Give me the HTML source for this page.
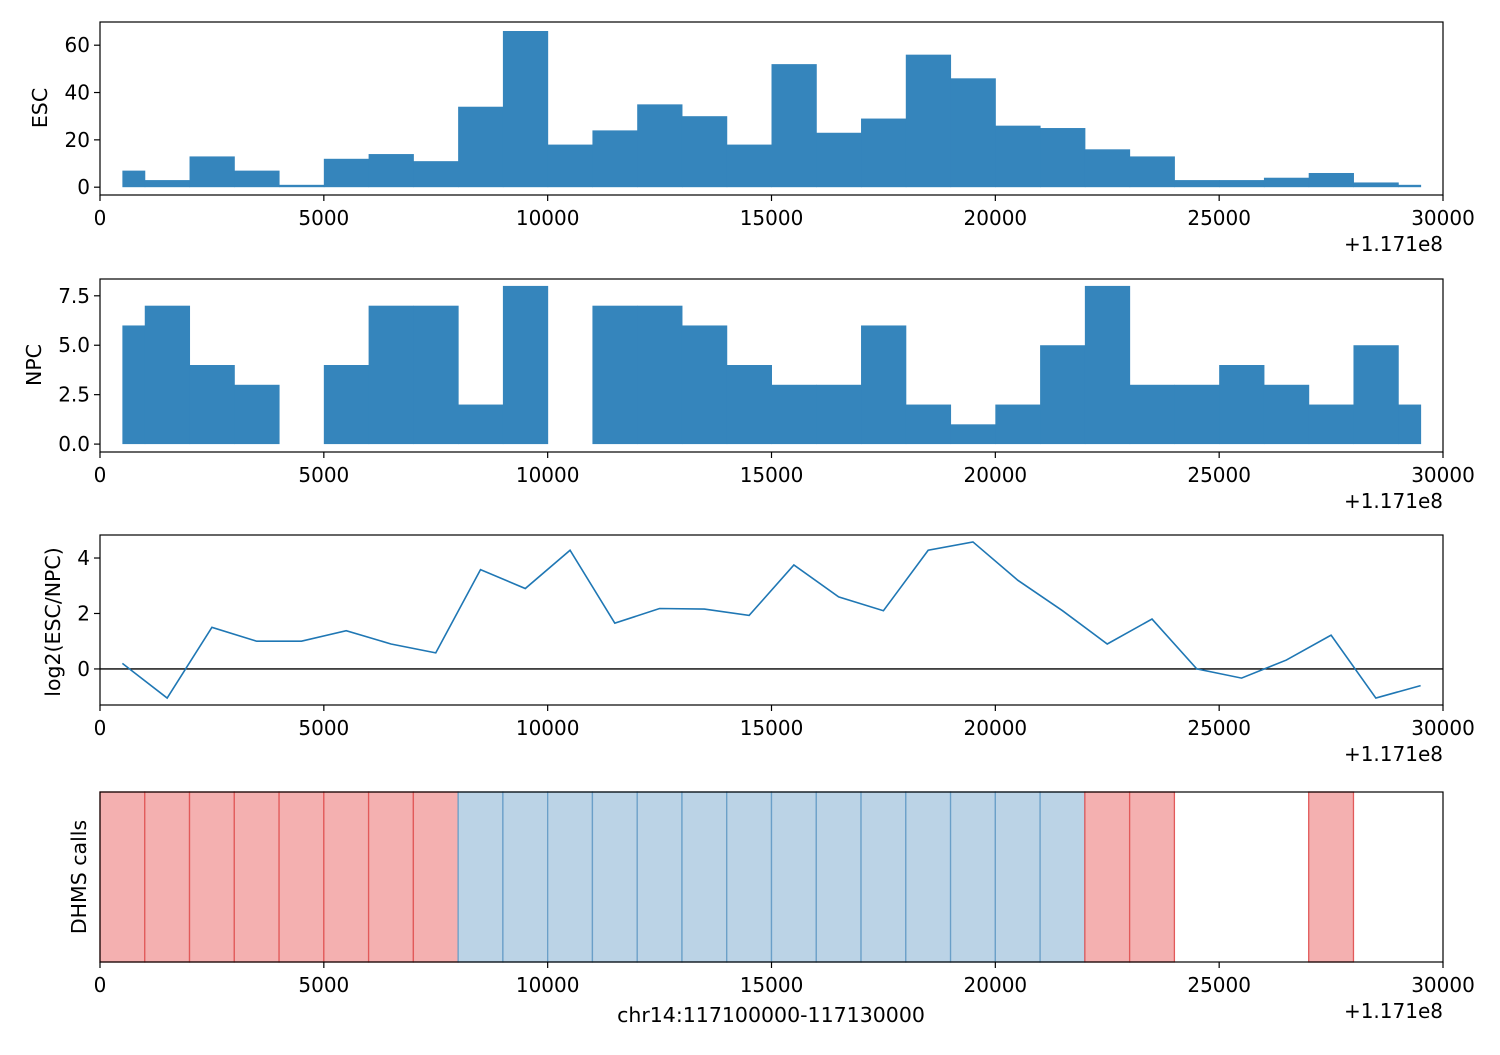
<!DOCTYPE html>
<html><head><meta charset="utf-8"><style>
body{margin:0;background:#fff}
svg text{font-family:"DejaVu Sans","Liberation Sans",sans-serif;font-size:20px;fill:#000}
svg text.lab{font-size:20.5px}
</style></head><body>
<svg id="fig" width="1500" height="1050" xmlns="http://www.w3.org/2000/svg"></svg>
<script>
const binStarts=[500,1000,2000,3000,4000,5000,6000,7000,8000,9000,10000,11000,12000,13000,14000,15000,16000,17000,18000,19000,20000,21000,22000,23000,24000,25000,26000,27000,28000,29000];
const binEnds=[1000,2000,3000,4000,5000,6000,7000,8000,9000,10000,11000,12000,13000,14000,15000,16000,17000,18000,19000,20000,21000,22000,23000,24000,25000,26000,27000,28000,29000,29500];
const escCounts=[7,3,13,7,1,12,14,11,34,66,18,24,35,30,18,52,23,29,56,46,26,25,16,13,3,3,4,6,2,1];
const npcCounts=[6,7,4,3,0,4,7,7,2,8,0,7,7,6,4,3,3,6,2,1,2,5,8,3,3,4,3,2,5,2];
const ratioX=[500,1500,2500,3500,4500,5500,6500,7500,8500,9500,10500,11500,12500,13500,14500,15500,16500,17500,18500,19500,20500,21500,22500,23500,24500,25500,26500,27500,28500,29500];
const ratioY=[0.2,-1.05,1.5,1.0,1.0,1.38,0.9,0.58,3.58,2.9,4.28,1.65,2.18,2.16,1.93,3.75,2.6,2.1,4.28,4.58,3.2,2.1,0.9,1.8,0.0,-0.33,0.32,1.22,-1.05,-0.6];
const callStarts=[0,1000,2000,3000,4000,5000,6000,7000,8000,9000,10000,11000,12000,13000,14000,15000,16000,17000,18000,19000,20000,21000,22000,23000,27000];
const callTypes=["r","r","r","r","r","r","r","r","b","b","b","b","b","b","b","b","b","b","b","b","b","b","r","r","r"];
const xTicks=[0,5000,10000,15000,20000,25000,30000];
const escTicks=[0,20,40,60];
const npcTicks=[0,2.5,5,7.5];
const npcTickLabels=["0.0","2.5","5.0","7.5"];
const ratioTicks=[0,2,4];

const svg=document.getElementById('fig');
const NS='http://www.w3.org/2000/svg';
function el(t,a,txt){const e=document.createElementNS(NS,t);for(const k in a)e.setAttribute(k,a[k]);if(txt!==undefined)e.textContent=txt;svg.appendChild(e);return e;}
const L=100,R=1443;
const sx=v=>L+(v/30000)*(R-L);
function mkY(top,bot,v0,v1){return v=>bot-(v-v0)/(v1-v0)*(bot-top);}
function frame(top,bot,name){
  const r=el('rect',{x:L,y:top,width:R-L,height:bot-top,fill:'none',stroke:'#000','stroke-width':1.2});
  
  xTicks.forEach(t=>{
    const l=el('line',{x1:sx(t),x2:sx(t),y1:bot,y2:bot+6,stroke:'#000','stroke-width':1.2});
    
    const tx=el('text',{x:sx(t),y:bot+30,'text-anchor':'middle'},String(t));
    
  });
  const o=el('text',{x:R,y:bot+56,'text-anchor':'end'},'+1.171e8');
  
}
function yticks(ticks,labels,y,name){
  ticks.forEach((t,i)=>{
    const l=el('line',{x1:L-6,x2:L,y1:y(t),y2:y(t),stroke:'#000','stroke-width':1.2});
    
    const tx=el('text',{x:L-10,y:y(t)+7,'text-anchor':'end'},labels[i]);
    
  });
}
function ylabel(txt,x,cy,name){
  const t=el('text',{x:x,y:cy,'text-anchor':'middle',class:'lab',transform:`rotate(-90 ${x} ${cy})`},txt);
  
}
function hist(counts,y,name){
  counts.forEach((c,i)=>{
    if(c<=0)return;
    const r=el('rect',{x:sx(binStarts[i]),y:y(c),width:sx(binEnds[i])-sx(binStarts[i])+0.5,height:y(0)-y(c),fill:'#3585bc'});
    
  });
}
const y1=mkY(22,195,-3.3,69.8);
hist(escCounts,y1,'esc');frame(22,195,'esc-axes');yticks(escTicks,escTicks.map(String),y1,'esc');ylabel('ESC',47,108,'esc-y-axis-title');
const y2=mkY(279,452,-0.4,8.35);
hist(npcCounts,y2,'npc');frame(279,452,'npc-axes');yticks(npcTicks,npcTickLabels,y2,'npc');ylabel('NPC',41,365,'npc-y-axis-title');
const y3=mkY(535,705,-1.3,4.83);
const z=el('line',{x1:L,x2:R,y1:y3(0),y2:y3(0),stroke:'#000','stroke-width':1.3});

const pl=el('polyline',{points:ratioX.map((x,i)=>sx(x)+','+y3(ratioY[i])).join(' '),fill:'none',stroke:'#1f77b4','stroke-width':1.6});

frame(535,705,'ratio-axes');yticks(ratioTicks,ratioTicks.map(String),y3,'ratio');ylabel('log2(ESC/NPC)',60,622,'ratio-y-axis-title');
callStarts.forEach((s,i)=>{
  const red=callTypes[i]==='r';
  const r=el('rect',{x:sx(s),y:792,width:sx(s+1000)-sx(s),height:170,fill:red?'#f4b0b0':'#bbd3e6',stroke:red?'#e25a5a':'#6a9fc8','stroke-width':1.3});
  
});
frame(792,962,'calls-axes');ylabel('DHMS calls',86,877,'calls-y-axis-title');
const xl=el('text',{x:771,y:1022,'text-anchor':'middle',class:'lab'},'chr14:117100000-117130000');

</script>
</body></html>
